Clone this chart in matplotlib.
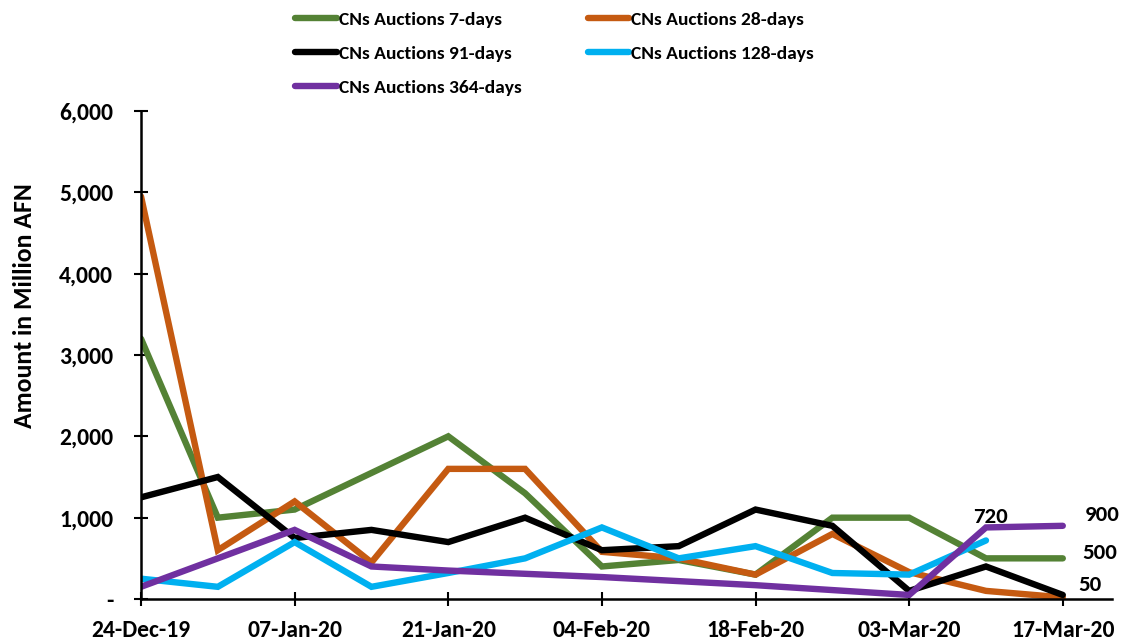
"""
CNs auction amounts by tenor, weekly, Dec-2019 to Mar-2020.
"""
import numpy as np
import matplotlib
matplotlib.use("Agg")
import matplotlib.pyplot as plt
from matplotlib.ticker import FuncFormatter

# weekly auction index (0 = 24-Dec-19, 12 = 17-Mar-20)
weeks = np.arange(13)
tick_weeks = [0, 2, 4, 6, 8, 10, 12]
tick_labels = ["24-Dec-19", "07-Jan-20", "21-Jan-20", "04-Feb-20",
               "18-Feb-20", "03-Mar-20", "17-Mar-20"]

days7   = [3200, 1000, 1100, 1550, 2000, 1300, 400, 480, 300, 1000, 1000, 500, 500]
days28  = [4950, 600, 1200, 450, 1600, 1600, 580, 500, 300, 800, 330, 100, 20]
days91  = [1250, 1500, 750, 850, 700, 1000, 600, 650, 1100, 900, 100, 400, 50]
days128 = [250, 150, 700, 150, 320, 500, 880, 500, 650, 320, 300, 720, np.nan]
days364 = [150, 500, 850, 400, 350, 310, 270, 220, 170, 110, 50, 880, 900]

SERIES = [
    ("CNs Auctions 7-days",   days7,   "#548235"),
    ("CNs Auctions 28-days",  days28,  "#C55A11"),
    ("CNs Auctions 91-days",  days91,  "#000000"),
    ("CNs Auctions 128-days", days128, "#00B0F0"),
    ("CNs Auctions 364-days", days364, "#7030A0"),
]

plt.rcParams.update({"font.family": ["Carlito", "Lato", "DejaVu Sans"],
                     "font.weight": "bold"})

fig = plt.figure(figsize=(11.29, 6.43), dpi=100)
ax = fig.add_axes([0.1249, 0.0684, 0.860, 0.759])

handles = {}
for name, vals, col in SERIES:
    ln, = ax.plot(weeks, vals, color=col, lw=4.6, solid_capstyle="round",
                  solid_joinstyle="miter", label=name)
    handles[name] = ln

ax.set_xlim(0, 12.64)
ax.set_ylim(0, 6000)
ax.set_yticks(np.arange(0, 6001, 1000))
ax.yaxis.set_major_formatter(FuncFormatter(lambda v, p: "-" if v == 0 else f"{v:,.0f}"))
ax.set_xticks(tick_weeks)
ax.set_xticklabels(tick_labels)
for s in ("top", "right"):
    ax.spines[s].set_visible(False)
for s in ("left", "bottom"):
    ax.spines[s].set_linewidth(1.8)
ax.tick_params(axis="both", direction="inout", length=10, width=1.5,
               labelsize=17)
ax.tick_params(axis="x", pad=10)
ax.tick_params(axis="y", pad=15)

fig.text(0.0213, 0.524, "Amount in Million AFN", rotation=90, ha="center",
         va="center", fontsize=18.5, fontweight="bold")

# end-of-series labels
lab = dict(fontsize=16.5, fontweight="bold", textcoords="offset points")
ax.annotate("720", (11, days128[11]), xytext=(3, 17), ha="center", va="center", **lab)
ax.annotate("900", (12, days364[12]), xytext=(16, 7.5), ha="left", va="center", **lab)
ax.annotate("500", (12, days7[12]), xytext=(14, 3.6), ha="left", va="center", **lab)
ax.annotate("50", (12, days91[12]), xytext=(11.5, 7.5), ha="left", va="center", **lab)

order = ["CNs Auctions 7-days", "CNs Auctions 91-days", "CNs Auctions 364-days",
         "CNs Auctions 28-days", "CNs Auctions 128-days"]
fig.legend([handles[n] for n in order], order, ncol=2, loc="upper left",
           bbox_to_anchor=(0.2458, 1.01), frameon=False, fontsize=14,
           handlelength=2.15, handletextpad=0.1, columnspacing=3.4,
           labelspacing=0.9)

fig.savefig("out.png", dpi=100)
